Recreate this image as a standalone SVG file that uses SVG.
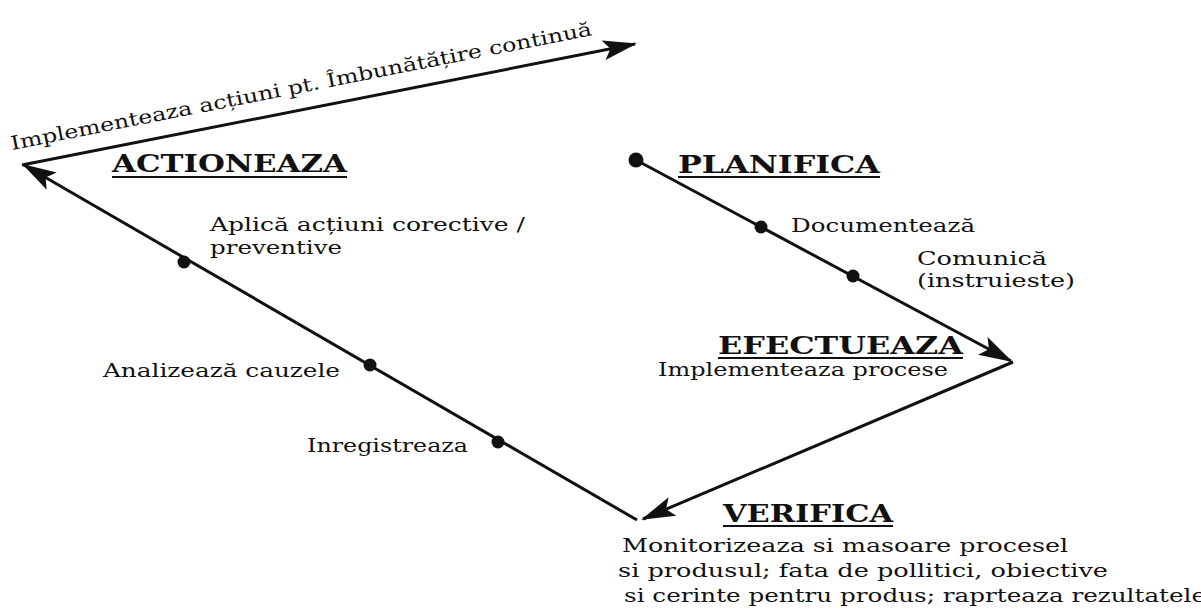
<svg xmlns="http://www.w3.org/2000/svg" width="1201" height="612" viewBox="0 0 1201 612">
<style>
  .t { font-family: "DejaVu Serif", "Liberation Serif", serif; font-size: 19px; fill: #111; }
  .h { font-family: "DejaVu Serif", "Liberation Serif", serif; font-size: 25px; font-weight: bold; fill: #111; }
  .ul { stroke: #111; stroke-width: 2; }
  .ln { stroke: #111; stroke-width: 3; fill: none; }
  .dot { fill: #111; }
</style>
<defs>
  <marker id="ah" markerUnits="userSpaceOnUse" markerWidth="40" markerHeight="30" viewBox="-34 -15 40 30" refX="0" refY="0" orient="auto">
    <path d="M2,0 L-32,-10 L-25,0 L-32,10 Z" fill="#111"/>
  </marker>
</defs>
<rect width="1201" height="612" fill="#fff"/>

<g id="connectors">
  <path class="ln" d="M637,520 L24,165" marker-end="url(#ah)"/>
  <path class="ln" d="M22,165 L635,44" marker-end="url(#ah)"/>
  <path class="ln" d="M636,160 L1011,361" marker-end="url(#ah)"/>
  <path class="ln" d="M1013,362 L643,519" marker-end="url(#ah)"/>
</g>

<g id="improve">
  <text class="t" font-size="21" transform="translate(12,150) rotate(-11.2)" textLength="592" lengthAdjust="spacingAndGlyphs">Implementeaza acțiuni pt. Îmbunătățire continuă</text>
</g>

<g id="actioneaza">
  <text class="h" x="112" y="172" textLength="235" lengthAdjust="spacingAndGlyphs">ACTIONEAZA</text>
  <line class="ul" x1="112" y1="177" x2="347" y2="177"/>
</g>

<g id="aplica">
  <circle class="dot" cx="184" cy="262" r="6.5"/>
  <text class="t" x="210" y="231" textLength="315" lengthAdjust="spacingAndGlyphs">Aplică acțiuni corective /</text>
  <text class="t" x="210" y="254" textLength="132" lengthAdjust="spacingAndGlyphs">preventive</text>
</g>

<g id="analizeaza">
  <circle class="dot" cx="370" cy="365" r="6.5"/>
  <text class="t" x="103" y="377" textLength="237" lengthAdjust="spacingAndGlyphs">Analizează cauzele</text>
</g>

<g id="inregistreaza">
  <circle class="dot" cx="498" cy="442" r="6.5"/>
  <text class="t" x="307" y="452" textLength="161" lengthAdjust="spacingAndGlyphs">Inregistreaza</text>
</g>

<g id="planifica">
  <circle class="dot" cx="636" cy="160" r="7.5"/>
  <text class="h" x="678" y="173" textLength="202" lengthAdjust="spacingAndGlyphs">PLANIFICA</text>
  <line class="ul" x1="678" y1="177" x2="880" y2="177"/>
</g>

<g id="documenteaza">
  <circle class="dot" cx="761" cy="227" r="6.5"/>
  <text class="t" x="791" y="232" textLength="184" lengthAdjust="spacingAndGlyphs">Documentează</text>
</g>

<g id="comunica">
  <circle class="dot" cx="853" cy="276" r="6.5"/>
  <text class="t" x="917" y="265" textLength="130" lengthAdjust="spacingAndGlyphs">Comunică</text>
  <text class="t" x="917" y="287" textLength="158" lengthAdjust="spacingAndGlyphs">(instruieste)</text>
</g>

<g id="efectueaza">
  <text class="h" x="718" y="354" textLength="245" lengthAdjust="spacingAndGlyphs">EFECTUEAZA</text>
  <line class="ul" x1="718" y1="358" x2="963" y2="358"/>
  <text class="t" x="658" y="376" textLength="290" lengthAdjust="spacingAndGlyphs">Implementeaza procese</text>
</g>

<g id="verifica">
  <text class="h" x="723" y="522" textLength="170" lengthAdjust="spacingAndGlyphs">VERIFICA</text>
  <line class="ul" x1="723" y1="526" x2="893" y2="526"/>
  <text class="t" x="622" y="552" textLength="446" lengthAdjust="spacingAndGlyphs">Monitorizeaza si masoare procesel</text>
  <text class="t" x="618" y="577" textLength="490" lengthAdjust="spacingAndGlyphs">si produsul; fata de pollitici, obiective</text>
  <text class="t" x="624" y="602" textLength="582" lengthAdjust="spacingAndGlyphs">si cerinte pentru produs; raprteaza rezultatele</text>
</g>
</svg>
